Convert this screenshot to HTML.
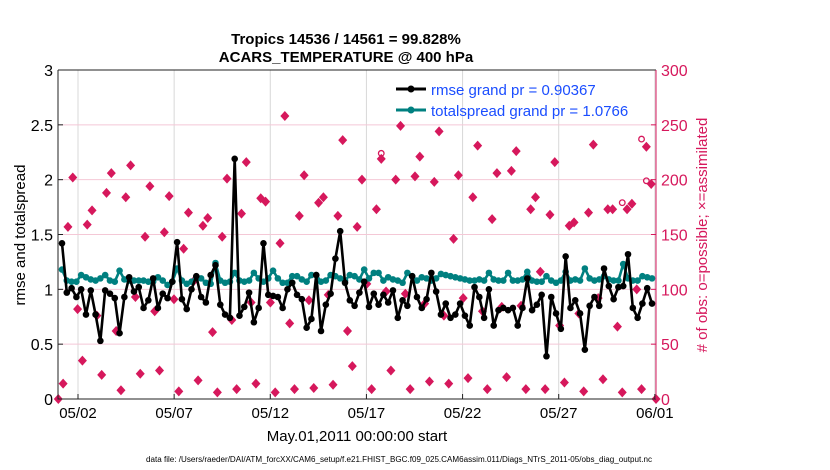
<!DOCTYPE html>
<html><head><meta charset="utf-8">
<style>
html,body{margin:0;padding:0;background:#fff;}
svg{display:block;font-family:"Liberation Sans",Arial,sans-serif;}
</style></head>
<body>
<svg id="chart" width="830" height="470" viewBox="0 0 830 470">
<rect x="0" y="0" width="830" height="470" fill="#fff"/>
<g id="grid"></g>
<g id="obs"></g>
<g id="spread"></g>
<g id="rmse"></g>
<g id="axes"></g>
<text x="346" y="44" text-anchor="middle" font-size="15" font-weight="bold">Tropics 14536 / 14561 = 99.828%</text>
<text x="346" y="62" text-anchor="middle" font-size="15" font-weight="bold">ACARS_TEMPERATURE @ 400 hPa</text>
<text transform="translate(25,235) rotate(-90)" text-anchor="middle" font-size="15">rmse and totalspread</text>
<text transform="translate(707,235) rotate(-90)" text-anchor="middle" font-size="15" fill="#d6185c"># of obs: o=possible; ×=assimilated</text>
<text x="357" y="441" text-anchor="middle" font-size="15">May.01,2011 00:00:00 start</text>
<text x="399" y="462" text-anchor="middle" font-size="8" textLength="506" lengthAdjust="spacingAndGlyphs">data file: /Users/raeder/DAI/ATM_forcXX/CAM6_setup/f.e21.FHIST_BGC.f09_025.CAM6assim.011/Diags_NTrS_2011-05/obs_diag_output.nc</text>
<g>
<line x1="396" y1="89" x2="426" y2="89" stroke="#000" stroke-width="3"/>
<circle cx="411" cy="89" r="3.5" fill="#000"/>
<text x="431" y="95" font-size="15" fill="#1a4dff">rmse grand pr = 0.90367</text>
<line x1="396" y1="110" x2="426" y2="110" stroke="#008080" stroke-width="3"/>
<circle cx="411" cy="110" r="3.5" fill="#008080"/>
<text x="431" y="116" font-size="15" fill="#1a4dff">totalspread grand pr = 1.0766</text>
</g>
</svg>
<script>
const xTickLabels = ["05/02","05/07","05/12","05/17","05/22","05/27","06/01"];
const xTickDays = [1,6,11,16,21,26,31];
const yLeftTicks = [0,0.5,1,1.5,2,2.5,3];
const yRightTicks = [0,50,100,150,200,250,300];
const rmse = [1.42,0.97,1.01,0.93,1.0,0.77,0.99,0.77,0.53,0.99,0.96,0.92,0.6,0.93,1.11,0.98,1.02,0.83,0.9,1.1,0.83,0.96,0.92,1.07,1.43,0.91,0.82,1.0,1.12,0.93,0.88,1.13,1.22,0.86,0.77,0.74,2.19,0.76,0.84,0.97,
0.7,0.83,1.42,0.95,0.94,0.93,0.83,1.0,1.06,0.95,0.91,0.65,0.73,1.13,0.62,0.86,0.96,1.28,1.53,1.06,0.9,0.85,0.97,1.07,0.84,0.96,0.86,0.95,0.88,0.99,0.74,0.9,0.85,1.12,0.93,0.83,0.91,1.15,0.98,0.77,0.87,0.74,
0.77,0.87,0.76,0.67,1.02,0.93,0.74,1.0,0.67,0.81,0.83,0.81,0.83,0.67,0.83,1.1,0.81,0.86,0.95,0.39,0.93,0.78,0.64,1.3,0.83,0.9,0.78,0.45,0.85,0.93,0.85,1.19,1.03,0.91,1.02,1.03,1.32,0.83,0.74,0.87,1.01,0.87];
const spread = [1.18,1.08,1.07,1.07,1.13,1.11,1.09,1.08,1.1,1.13,1.08,1.07,1.17,1.09,1.08,1.08,1.08,1.08,1.07,1.07,1.11,1.08,1.04,1.07,1.19,1.08,1.05,1.07,1.11,1.1,1.06,1.05,1.24,1.08,1.06,1.07,1.15,1.08,1.07,1.08,
1.15,1.1,1.07,1.1,1.17,1.1,1.06,1.06,1.12,1.12,1.09,1.07,1.13,1.13,1.07,1.08,1.13,1.12,1.1,1.08,1.13,1.12,1.09,1.18,1.1,1.15,1.15,1.08,1.11,1.09,1.08,1.06,1.15,1.12,1.08,1.11,1.1,1.08,1.1,1.14,1.13,1.12,
1.11,1.1,1.09,1.08,1.08,1.09,1.08,1.15,1.09,1.08,1.08,1.15,1.08,1.08,1.09,1.16,1.08,1.07,1.07,1.12,1.08,1.06,1.08,1.16,1.08,1.09,1.08,1.19,1.1,1.08,1.09,1.12,1.09,1.08,1.08,1.23,1.1,1.08,1.08,1.12,1.11,1.1];
const assimilated = [0,14,157,202,82,35,159,172,76,22,188,206,62,8,184,213,93,23,148,194,80,26,152,185,91,7,137,170,107,17,158,165,61,6,148,201,72,9,169,216,88,14,183,180,
88,6,142,258,69,9,167,204,90,10,179,184,95,13,167,236,62,30,157,200,105,9,173,219,98,26,200,249,96,9,203,221,87,16,198,244,76,14,146,204,
92,19,184,231,80,9,164,206,84,20,208,226,85,9,173,184,116,9,168,216,67,15,158,161,78,7,170,232,92,18,173,173,66,6,173,178,100,9,230,196,0];
const possibleIdx = [67,117,121,122];
const possibleVal = [224,179,237,199];

const NS="http://www.w3.org/2000/svg";
const L=58,R=656,T=70,B=399;
const xDay=d=>L+(d+0.04)/31.1*(R-L);
const yL=v=>B-v/3*(B-T);
const yR=v=>B-v/300*(B-T);
function mk(tag,attrs,parent){const e=document.createElementNS(NS,tag);for(const k in attrs)e.setAttribute(k,attrs[k]);parent.appendChild(e);return e;}
const grid=document.getElementById('grid'),axes=document.getElementById('axes');
xTickDays.forEach((d,i)=>{
  const g=mk('line',{x1:xDay(d),x2:xDay(d),y1:T,y2:B,stroke:'#d8d8d8','stroke-width':1},grid);
  
  
  const t=mk('line',{x1:xDay(d),x2:xDay(d),y1:B,y2:B-5,stroke:'#222'},axes);
  
  
  const tl=mk('text',{x:xDay(d),y:B+19,'text-anchor':'middle','font-size':15},axes);
  tl.textContent=xTickLabels[i];
  
  
});
yLeftTicks.forEach(v=>{
  if(v>0&&v<3){const g=mk('line',{x1:L,x2:R,y1:yL(v),y2:yL(v),stroke:'#f4c8d6','stroke-width':1},grid);
  
  }
  const t=mk('line',{x1:L,x2:L+5,y1:yL(v),y2:yL(v),stroke:'#222'},axes);
  
  
  const tl=mk('text',{x:L-5,y:yL(v)+6,'text-anchor':'end','font-size':16},axes);
  tl.textContent=String(v);
  
  
});
yRightTicks.forEach(v=>{
  const t=mk('line',{x1:R-5,x2:R,y1:yR(v),y2:yR(v),stroke:'#d6185c'},axes);
  
  
  const tl=mk('text',{x:R+5,y:yR(v)+6,'font-size':16,fill:'#d6185c'},axes);
  tl.textContent=String(v);
  
  
});
const fr=mk('path',{d:`M${L},${T}H${R}M${L},${T}V${B}H${R}`,fill:'none',stroke:'#222','stroke-width':1},axes);


const ra=mk('line',{x1:R,x2:R,y1:T,y2:B,stroke:'#d6185c','stroke-width':1},axes);



const og=document.getElementById('obs');
const oX=i=>58.3+i*(656-58.3)/(assimilated.length-1);
assimilated.forEach((v,i)=>{
  const x=oX(i),y=yR(v);
  const d=mk('path',{d:`M${x},${y-5}L${x+4.5},${y}L${x},${y+5}L${x-4.5},${y}Z`,fill:'#d6185c'},og);
  
  
});
possibleIdx.forEach((idx,k)=>{
  const c=mk('circle',{cx:oX(idx),cy:yR(possibleVal[k]),r:2.8,fill:'none',stroke:'#d6185c','stroke-width':1.3},og);
  
  
});
function series(arr,gid,color,name){
  const g=document.getElementById(gid);
  const px=i=>62+i*(652-62)/(arr.length-1);
  const p=mk('polyline',{points:arr.map((v,i)=>px(i)+','+yL(v)).join(' '),fill:'none',stroke:color,'stroke-width':2.6,'stroke-linejoin':'round'},g);
  
  
  arr.forEach((v,i)=>{
    const c=mk('circle',{cx:px(i),cy:yL(v),r:3.3,fill:color},g);
    
    
  });
}
series(spread,'spread','#008080','totalspread');
series(rmse,'rmse','#000','rmse');
</script>
</body></html>
